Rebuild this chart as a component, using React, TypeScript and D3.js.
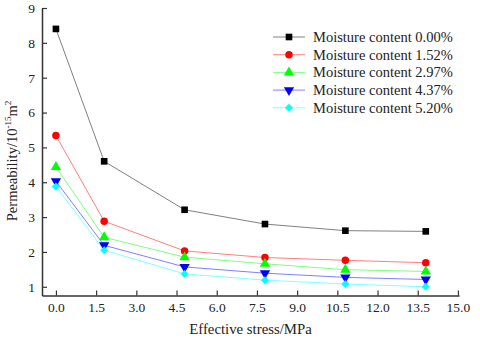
import React, { useEffect, useRef } from "react";
import * as d3 from "d3";

const stress = [0, 1.8, 4.8, 7.8, 10.8, 13.8];
const moisture = ["0.00", "1.52", "2.97", "4.37", "5.20"];
const perm000 = [8.4, 4.6, 3.21, 2.8, 2.61, 2.59];
const perm152 = [5.34, 2.88, 2.03, 1.84, 1.76, 1.69];
const perm297 = [4.44, 2.42, 1.85, 1.66, 1.49, 1.44];
const perm437 = [4.03, 2.19, 1.57, 1.39, 1.27, 1.21];
const perm520 = [3.88, 2.05, 1.37, 1.19, 1.08, 1.0];
const xTicks = [0, 1.5, 3, 4.5, 6, 7.5, 9, 10.5, 12, 13.5, 15];
const yTicks = [1, 2, 3, 4, 5, 6, 7, 8, 9];

const App = () => {
  const ref = useRef<SVGSVGElement>(null);

  useEffect(() => {
    draw();
  });

  let draw = () => {
    const svg = d3.select(ref.current);
    svg.selectAll("*").remove();

    const font = "'Liberation Serif', 'Times New Roman', serif";
    const left = 42;
    const right = 459;
    const top = 8;
    const bottom = 295.5;

    const x = d3.scaleLinear().domain([-0.52, 15.04]).range([left, right]);
    const y = d3.scaleLinear().domain([0.75, 9]).range([bottom, top]);

    const series = [
      { values: perm000, marker: "#000000", line: "#808080", symbol: d3.symbolSquare, size: 44, rot: 0 },
      { values: perm152, marker: "#ff0000", line: "#ff8080", symbol: d3.symbolCircle, size: 44, rot: 0 },
      { values: perm297, marker: "#00ff00", line: "#80ff80", symbol: d3.symbolTriangle, size: 46, rot: 0 },
      { values: perm437, marker: "#0000ff", line: "#8080ff", symbol: d3.symbolTriangle, size: 46, rot: 180 },
      { values: perm520, marker: "#00ffff", line: "#80ffff", symbol: d3.symbolSquare, size: 32, rot: 45 },
    ];

    // axes
    const xMinor = d3.range(0.75, 15, 1.5);
    const yMinor = d3.range(1.5, 9, 1);

    const gx = svg.append("g").attr("transform", `translate(0,${bottom})`);
    gx.call(
      d3.axisBottom(x).tickValues(xMinor).tickSize(-3).tickSizeOuter(0).tickFormat(() => "")
    );
    gx.call(
      d3.axisBottom(x).tickValues(xTicks).tickSize(-5).tickSizeOuter(0).tickPadding(7).tickFormat(d3.format(".1f"))
    );

    const gy = svg.append("g").attr("transform", `translate(${left},0)`);
    gy.call(
      d3.axisLeft(y).tickValues(yMinor).tickSize(-3).tickSizeOuter(0).tickFormat(() => "")
    );
    gy.call(
      d3.axisLeft(y).tickValues(yTicks).tickSize(-5).tickSizeOuter(0).tickPadding(7).tickFormat(d3.format("d"))
    );

    svg.selectAll(".domain").attr("stroke", "#333").attr("stroke-width", 1.5);
    svg.selectAll(".tick line").attr("stroke", "#333").attr("stroke-width", 1.2);
    svg.selectAll(".tick text").attr("font-family", font).attr("font-size", 13.5).attr("fill", "#222");

    // axis titles
    svg
      .append("text")
      .attr("x", (left + right) / 2)
      .attr("y", 334)
      .attr("text-anchor", "middle")
      .attr("font-family", font)
      .attr("font-size", 14.8)
      .attr("fill", "#222")
      .text("Effective stress/MPa");

    const yl = svg
      .append("text")
      .attr("transform", "translate(16.5,161) rotate(-90)")
      .attr("text-anchor", "middle")
      .attr("font-family", font)
      .attr("font-size", 14.5)
      .attr("fill", "#222");
    yl.append("tspan").text("Permeability/10");
    yl.append("tspan").attr("font-size", 9).attr("dy", -6).text("-15");
    yl.append("tspan").attr("dy", 6).text("m");
    yl.append("tspan").attr("font-size", 9).attr("dy", -6).text("2");

    // lines + markers
    const line = d3
      .line<number>()
      .x((d, i) => x(stress[i]))
      .y((d) => y(d));

    series.forEach((s) => {
      svg
        .append("path")
        .attr("d", line(s.values))
        .attr("fill", "none")
        .attr("stroke", s.line)
        .attr("stroke-width", 1);
    });

    series.forEach((s) => {
      const path = d3.symbol().type(s.symbol).size(s.size)();
      svg
        .append("g")
        .selectAll("path")
        .data(s.values)
        .join("path")
        .attr("d", path)
        .attr("transform", (d, i) => `translate(${x(stress[i])},${y(d)}) rotate(${s.rot})`)
        .attr("fill", s.marker);
    });

    // legend
    const legend = svg.append("g").attr("transform", "translate(273,37)");
    series.forEach((s, i) => {
      const row = legend.append("g").attr("transform", `translate(0,${i * 17.7})`);
      row
        .append("line")
        .attr("x1", 0)
        .attr("x2", 32)
        .attr("stroke", s.line)
        .attr("stroke-width", 1);
      row
        .append("path")
        .attr("d", d3.symbol().type(s.symbol).size(s.size)())
        .attr("transform", `translate(16,0) rotate(${s.rot})`)
        .attr("fill", s.marker);
      row
        .append("text")
        .attr("x", 40)
        .attr("y", 5)
        .attr("font-family", font)
        .attr("font-size", 14.5)
        .attr("fill", "#222")
        .text(`Moisture content ${moisture[i]}%`);
    });
  };

  return (
    <svg
      ref={ref}
      width={480}
      height={348}
      style={{ position: "absolute", left: 0, top: 0, background: "#fff" }}
    />
  );
};

export default App;
